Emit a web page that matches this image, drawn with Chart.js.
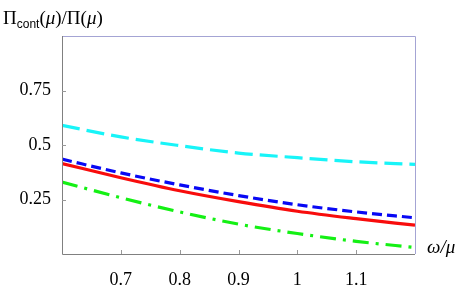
<!DOCTYPE html>
<html>
<head>
<meta charset="utf-8">
<script src="https://cdn.jsdelivr.net/npm/chart.js@4.4.1/dist/chart.umd.min.js"></script>
<style>
  body { margin: 0; background: #fff; }
  #wrap { width: 463px; height: 286px; position: relative; }
</style>
</head>
<body>
<div id="wrap"><canvas id="chart"></canvas></div>
<script>
// omega/mu sample points
const xValues = [0.6, 0.7, 0.8, 0.9, 1.0, 1.1, 1.2];
// curves
const cyanValues  = [0.590, 0.537, 0.497, 0.463, 0.442, 0.423, 0.411];
const blueValues  = [0.435, 0.372, 0.317, 0.268, 0.226, 0.193, 0.166];
const redValues   = [0.415, 0.350, 0.290, 0.240, 0.196, 0.162, 0.132];
const greenValues = [0.330, 0.258, 0.193, 0.137, 0.094, 0.058, 0.030];

const xTicks = [0.7, 0.8, 0.9, 1, 1.1];
const yTicks = [0.25, 0.5, 0.75];

function pts(ys) {
  return xValues.map((x, i) => ({ x: x, y: ys[i] }));
}

function line(ys, color, dash) {
  return {
    data: pts(ys),
    borderColor: color,
    borderWidth: 3.2,
    borderDash: dash,
    pointRadius: 0,
    fill: false,
    cubicInterpolationMode: 'monotone'
  };
}

// frame, inner tick marks and the math labels
const framePlugin = {
  id: 'frame',
  afterDraw(chart) {
    const ctx = chart.ctx;
    const a = chart.chartArea;
    const xs = chart.scales.x, ys = chart.scales.y;
    ctx.save();
    ctx.lineWidth = 1;
    ctx.strokeStyle = '#a4a4d4';
    ctx.beginPath();
    ctx.moveTo(a.left, a.top + 0.5);
    ctx.lineTo(a.right + 0.5, a.top + 0.5);
    ctx.lineTo(a.right + 0.5, a.bottom);
    ctx.stroke();
    ctx.strokeStyle = '#808080';
    ctx.beginPath();
    ctx.moveTo(a.left + 0.5, a.top);
    ctx.lineTo(a.left + 0.5, a.bottom + 0.5);
    ctx.lineTo(a.right, a.bottom + 0.5);
    ctx.stroke();
    ctx.strokeStyle = '#999';
    ctx.beginPath();
    xTicks.forEach(v => {
      const px = Math.round(xs.getPixelForValue(v)) + 0.5;
      ctx.moveTo(px, a.bottom);
      ctx.lineTo(px, a.bottom - 4);
    });
    yTicks.forEach(v => {
      const py = Math.round(ys.getPixelForValue(v)) + 0.5;
      ctx.moveTo(a.left, py);
      ctx.lineTo(a.left + 4, py);
    });
    ctx.stroke();

    ctx.fillStyle = '#000';
    ctx.textBaseline = 'alphabetic';
    ctx.textAlign = 'left';
    let x = 3;
    const base = 24;
    const parts = [
      ['Π', '19px "Liberation Serif"', 0],
      ['cont', '12px "Liberation Sans"', 4],
      ['(', '19px "Liberation Serif"', 0],
      ['μ', 'italic 19px "Liberation Serif"', 0],
      [')/Π(', '19px "Liberation Serif"', 0],
      ['μ', 'italic 19px "Liberation Serif"', 0],
      [')', '19px "Liberation Serif"', 0]
    ];
    parts.forEach(p => {
      ctx.font = p[1];
      ctx.fillText(p[0], x, base + p[2]);
      x += ctx.measureText(p[0]).width;
    });

    ctx.font = 'italic 19px "Liberation Serif"';
    ctx.fillText('ω/μ', a.right + 12, a.bottom - 1);
    ctx.restore();
  }
};

new Chart(document.getElementById('chart'), {
  type: 'line',
  data: {
    datasets: [
      line(cyanValues, '#18f4f8', [18, 7]),
      line(blueValues, '#0808f4', [10, 5]),
      line(redValues, '#f80c0c', []),
      line(greenValues, '#14f014', [16, 7, 3, 7])
    ]
  },
  options: {
    responsive: true,
    maintainAspectRatio: false,
    animation: false,
    layout: { padding: { left: 0, top: 36, right: 48, bottom: 0 } },
    plugins: { legend: { display: false }, tooltip: { enabled: false } },
    scales: {
      x: {
        type: 'linear',
        min: 0.6,
        max: 1.2,
        grid: { display: false },
        border: { display: false },
        afterBuildTicks: s => { s.ticks = xTicks.map(v => ({ value: v })); },
        afterFit: s => { s.height = 32; },
        ticks: {
          padding: 7,
          color: '#000',
          font: { family: '"Liberation Serif"', size: 18 },
          callback: v => String(v)
        }
      },
      y: {
        min: 0,
        max: 1,
        grid: { display: false },
        border: { display: false },
        afterBuildTicks: s => { s.ticks = yTicks.map(v => ({ value: v })); },
        afterFit: s => { s.width = 62; },
        ticks: {
          padding: 3,
          color: '#000',
          font: { family: '"Liberation Serif"', size: 18 },
          callback: v => String(v)
        }
      }
    }
  },
  plugins: [framePlugin]
});
</script>
</body>
</html>
